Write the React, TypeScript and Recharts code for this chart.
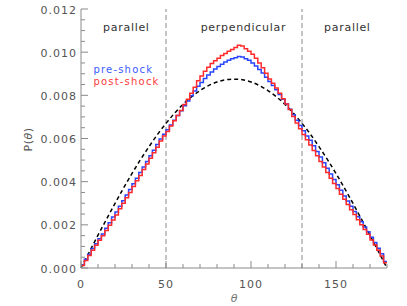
import React from "react";
import { LineChart, Line, XAxis, YAxis, ReferenceLine, ReferenceDot } from "recharts";

// histogram bins are 2 degrees wide, values per bin from 0..180
const BIN_WIDTH = 2;
const PRE_SHOCK = [
  0.00014, 0.0004, 0.00064, 0.0009, 0.00112, 0.00136, 0.00158, 0.00184, 0.0021, 0.00236,
  0.0026, 0.00286, 0.00312, 0.00338, 0.00364, 0.0039, 0.00416, 0.00442, 0.00468, 0.00494,
  0.0052, 0.00546, 0.00572, 0.00598, 0.0062, 0.0064, 0.00662, 0.00684, 0.00706, 0.00728,
  0.00752, 0.00774, 0.00798, 0.0082, 0.00842, 0.0086, 0.00878, 0.00894, 0.00908, 0.00922,
  0.00934, 0.00944, 0.00954, 0.00962, 0.0097, 0.00974, 0.0098, 0.00978, 0.0097, 0.00962,
  0.0095, 0.00936, 0.0092, 0.00904, 0.00884, 0.00864, 0.00846, 0.00826, 0.00804, 0.00782,
  0.0076, 0.00736, 0.0071, 0.00684, 0.0066, 0.00636, 0.00612, 0.00592, 0.00566, 0.0054,
  0.00514, 0.00488, 0.00462, 0.00436, 0.0041, 0.00386, 0.0036, 0.00334, 0.0031, 0.00286,
  0.00262, 0.00238, 0.00214, 0.0019, 0.00168, 0.00142, 0.00118, 0.00092, 0.00066, 0.0003,
];
const POST_SHOCK = [
  0.00012, 0.00035, 0.00058, 0.00082, 0.00105, 0.00128, 0.0015, 0.00174, 0.00198, 0.00222,
  0.00246, 0.00274, 0.003, 0.00326, 0.0035, 0.00378, 0.00404, 0.00428, 0.00456, 0.00482,
  0.00508, 0.00534, 0.0056, 0.00588, 0.00612, 0.00632, 0.00658, 0.00682, 0.00706, 0.0073,
  0.00758, 0.00782, 0.0081, 0.00838, 0.00868, 0.0089, 0.00912, 0.0093, 0.00948, 0.0096,
  0.00972, 0.00984, 0.00994, 0.01004, 0.01012, 0.01022, 0.01032, 0.01028, 0.01016, 0.01004,
  0.0099, 0.00972, 0.0095, 0.00928, 0.00902, 0.00876, 0.00856, 0.00834, 0.0081, 0.00784,
  0.0076, 0.00734, 0.00702, 0.00672, 0.00645, 0.00618, 0.00594, 0.0057, 0.00544, 0.0052,
  0.00494, 0.00468, 0.00442, 0.00416, 0.00392, 0.00368, 0.00342, 0.00318, 0.00294, 0.0027,
  0.00248, 0.00224, 0.002, 0.00178, 0.00156, 0.0013, 0.00106, 0.00082, 0.00056, 0.00024,
];

// isotropic reference curve (dashed)
const ISO_THETA = [0, 5, 10, 15, 20, 25, 30, 35, 40, 45, 50, 55, 60, 65, 70, 75, 80, 85, 90,
  95, 100, 105, 110, 115, 120, 125, 130, 135, 140, 145, 150, 155, 160, 165, 170, 175, 180];
const ISO_P = [0, 0.00076, 0.00152, 0.00226, 0.00299, 0.0037, 0.00438, 0.00502, 0.00562,
  0.00619, 0.0067, 0.00717, 0.00758, 0.00793, 0.00822, 0.00845, 0.00862, 0.00872, 0.00875,
  0.00872, 0.00862, 0.00845, 0.00822, 0.00793, 0.00758, 0.00717, 0.0067, 0.00619, 0.00562,
  0.00502, 0.00438, 0.0037, 0.00299, 0.00226, 0.00152, 0.00076, 0];

const X_TICKS = [0, 10, 20, 30, 40, 50, 60, 70, 80, 90, 100, 110, 120, 130, 140, 150, 160, 170, 180];
const Y_TICKS = [0, 0.0005, 0.001, 0.0015, 0.002, 0.0025, 0.003, 0.0035, 0.004, 0.0045, 0.005,
  0.0055, 0.006, 0.0065, 0.007, 0.0075, 0.008, 0.0085, 0.009, 0.0095, 0.01, 0.0105, 0.011,
  0.0115, 0.012];
const REGION_EDGES = [50, 130];

const FONT = "'DejaVu Sans', sans-serif";
const AXIS = "#8a8a8a";
const TEXT = "#555";

const histRows = PRE_SHOCK.map((v, i) => ({ theta: i * BIN_WIDTH, pre: v, post: POST_SHOCK[i] }));
histRows.push({ theta: 180, pre: PRE_SHOCK[PRE_SHOCK.length - 1], post: POST_SHOCK[POST_SHOCK.length - 1] });
const isoRows = ISO_THETA.map((t, i) => ({ theta: t, iso: ISO_P[i] }));

const isMajorX = (v: number) => v % 50 === 0;
const isMajorY = (v: number) => Math.abs(v * 500 - Math.round(v * 500)) < 1e-6;

function XTick({ x, y, payload, side }: any) {
  const major = isMajorX(payload.value);
  const len = major ? 7 : 4;
  const dir = side === "top" ? 1 : -1;
  return (
    <g>
      <line x1={x} y1={y} x2={x} y2={y + dir * len} stroke={AXIS} strokeWidth={1} />
      {side === "bottom" && major && (
        <text x={x} y={y + 16} textAnchor="middle" dominantBaseline="central" fill={TEXT} fontSize={11} letterSpacing={1} fontFamily={FONT}>
          {payload.value}
        </text>
      )}
    </g>
  );
}

function YTick({ x, y, payload, side }: any) {
  const major = isMajorY(payload.value);
  const len = major ? 7 : 4;
  const dir = side === "left" ? 1 : -1;
  return (
    <g>
      <line x1={x} y1={y} x2={x + dir * len} y2={y} stroke={AXIS} strokeWidth={1} />
      {side === "left" && major && (
        <text x={x - 4} y={y + 1} textAnchor="end" dominantBaseline="central" fill={TEXT} fontSize={11} letterSpacing={1} fontFamily={FONT}>
          {payload.value.toFixed(3)}
        </text>
      )}
    </g>
  );
}

function TextAt({ cx, cy, text, color, size = 11, spacing = 0.7 }: any) {
  return (
    <text x={cx} y={cy} textAnchor="start" dominantBaseline="central" fill={color} fontSize={size} letterSpacing={spacing} fontFamily={FONT}>
      {text}
    </text>
  );
}

export default function App() {
  return (
    <div style={{ position: "absolute", left: 0, top: 0, background: "#fff" }}>
      <LineChart width={407} height={306} margin={{ top: 9, right: 20, bottom: 0, left: 0 }}>
        <XAxis
          xAxisId="b"
          dataKey="theta"
          type="number"
          domain={[0, 180]}
          ticks={X_TICKS}
          interval={0}
          height={38}
          tickSize={0}
          tickMargin={0}
          stroke={AXIS}
          tick={<XTick side="bottom" />}
          label={({ viewBox }: any) => (
            <text x={viewBox.x + viewBox.width / 2} y={viewBox.y + 30} textAnchor="middle" dominantBaseline="central" fill="#777" fontSize={11} fontStyle="italic" fontFamily={FONT}>
              θ
            </text>
          )}
        />
        <XAxis
          xAxisId="t"
          orientation="top"
          dataKey="theta"
          type="number"
          domain={[0, 180]}
          ticks={X_TICKS}
          interval={0}
          height={0}
          tickSize={0}
          tickMargin={0}
          stroke={AXIS}
          tick={<XTick side="top" />}
        />
        <YAxis
          yAxisId="l"
          type="number"
          domain={[0, 0.012]}
          ticks={Y_TICKS}
          interval={0}
          width={81}
          tickSize={0}
          tickMargin={0}
          stroke={AXIS}
          tick={<YTick side="left" />}
          label={({ viewBox }: any) => {
            const cx = viewBox.x + 28;
            const cy = viewBox.y + viewBox.height / 2 + 1;
            return (
              <text x={cx} y={cy} transform={`rotate(-90 ${cx} ${cy})`} textAnchor="middle" dominantBaseline="central" fill={TEXT} fontSize={11} letterSpacing={0.5} fontFamily={FONT}>
                P(<tspan fontStyle="italic">θ</tspan>)
              </text>
            );
          }}
        />
        <YAxis
          yAxisId="r"
          orientation="right"
          type="number"
          domain={[0, 0.012]}
          ticks={Y_TICKS}
          interval={0}
          width={0}
          tickSize={0}
          tickMargin={0}
          stroke={AXIS}
          tick={<YTick side="right" />}
        />
        {REGION_EDGES.map((e) => (
          <ReferenceLine key={e} x={e} xAxisId="b" yAxisId="l" stroke="#888" strokeDasharray="5 3" />
        ))}
        <Line
          data={isoRows}
          xAxisId="b"
          yAxisId="l"
          dataKey="iso"
          type="monotone"
          stroke="#000"
          strokeWidth={1.5}
          strokeDasharray="4 3"
          dot={false}
          activeDot={false}
          isAnimationActive={false}
        />
        <Line
          data={histRows}
          xAxisId="b"
          yAxisId="l"
          dataKey="pre"
          type="stepAfter"
          stroke="#2846ff"
          strokeWidth={1.5}
          dot={false}
          activeDot={false}
          isAnimationActive={false}
        />
        <Line
          data={histRows}
          xAxisId="b"
          yAxisId="l"
          dataKey="post"
          type="stepAfter"
          stroke="#ff2a2a"
          strokeWidth={1.5}
          dot={false}
          activeDot={false}
          isAnimationActive={false}
        />
        <ReferenceDot xAxisId="b" yAxisId="l" x={13} y={0.01112} shape={(p: any) => <TextAt {...p} text="parallel" color="#333" />} />
        <ReferenceDot xAxisId="b" yAxisId="l" x={70.4} y={0.01112} shape={(p: any) => <TextAt {...p} text="perpendicular" color="#333" />} />
        <ReferenceDot xAxisId="b" yAxisId="l" x={143} y={0.01112} shape={(p: any) => <TextAt {...p} text="parallel" color="#333" />} />
        <ReferenceDot xAxisId="b" yAxisId="l" x={7.3} y={0.00922} shape={(p: any) => <TextAt {...p} text="pre-shock" color="#3c5cff" size={10} spacing={1.2} />} />
        <ReferenceDot xAxisId="b" yAxisId="l" x={7.3} y={0.00862} shape={(p: any) => <TextAt {...p} text="post-shock" color="#ff3b3b" size={10} spacing={1.2} />} />
      </LineChart>
    </div>
  );
}
